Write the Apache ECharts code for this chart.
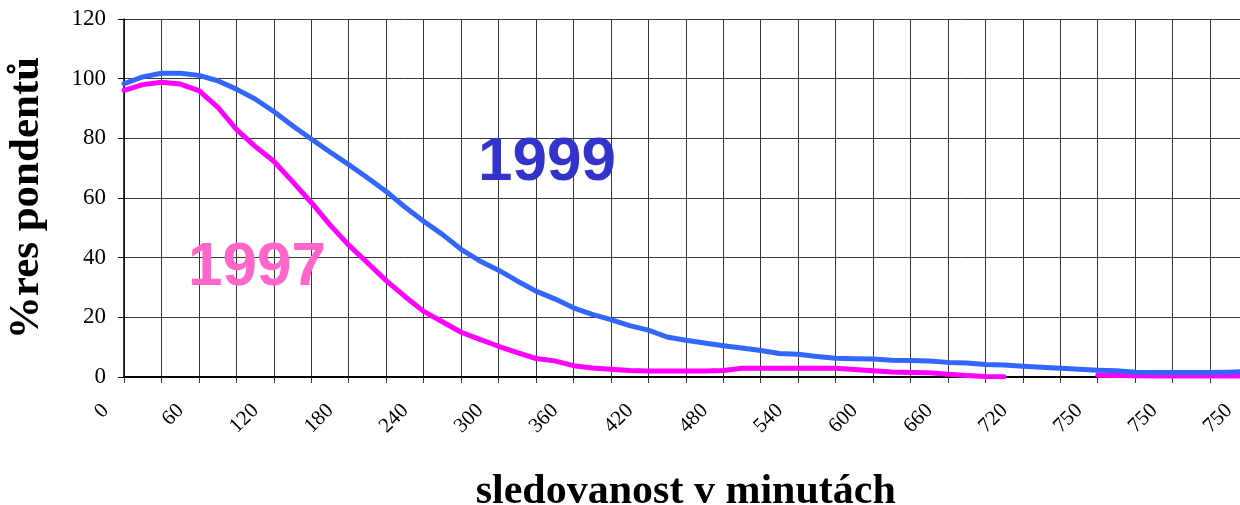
<!DOCTYPE html>
<html>
<head>
<meta charset="utf-8">
<script src="https://cdn.jsdelivr.net/npm/echarts@6/dist/echarts.min.js"></script>
<style>
    html, body {margin: 0; padding: 0; background: #fff;}
    #chart {width: 1240px; height: 505px;}
</style>
</head>
<body>
<div id="chart"></div>
<script>
// minutes along the x axis (one point every 15 min)
let minutes = [0, 15, 30, 45, 60, 75, 90, 105, 120, 135, 150, 165, 180, 195, 210, 225, 240, 255, 270, 285,
    300, 315, 330, 345, 360, 375, 390, 405, 420, 435, 450, 465, 480, 495, 510, 525, 540, 555, 570, 585,
    600, 615, 630, 645, 660, 675, 690, 705, 720, 735, 750, 765, 780, 795, 810, 825, 840, 855, 870, 885, 900];

// labels printed under every second grid line (as in the original, the last ones repeat)
let tickLabels = ['0', '60', '120', '180', '240', '300', '360', '420', '480', '540', '600', '660', '720', '750', '750', '750'];

let values1997 = [96.1, 98, 98.8, 98.2, 96, 90.5, 83, 77.3, 72.3, 65.5, 58.5, 51, 44.2, 38.3, 32.3, 27, 22, 18.5, 15, 12.6,
    10.3, 8.2, 6.2, 5.4, 3.8, 3, 2.6, 2.2, 2, 2, 2, 2, 2.2, 2.9, 2.9, 2.9, 2.9, 2.9, 2.9, 2.5,
    2.1, 1.7, 1.5, 1.4, 0.9, 0.5, 0.2, 0.1, null, null, null, null, 0.6, 0.5, 0.4, 0.3, 0.3, 0.3, 0.3, 0.3, 0.3];

let values1999 = [98.3, 100.6, 101.8, 101.8, 101.1, 99.3, 96.5, 93.2, 89, 84.2, 79.8, 75.4, 71.2, 66.8, 62.2, 57, 52.2, 47.8, 42.8, 38.9,
    35.8, 32.2, 28.8, 26.2, 23.2, 21, 19.2, 17.2, 15.7, 13.4, 12.3, 11.4, 10.5, 9.7, 8.9, 7.9, 7.6, 6.9, 6.3, 6.1,
    6, 5.6, 5.5, 5.4, 4.9, 4.7, 4.2, 4, 3.6, 3.3, 2.9, 2.6, 2.3, 2.1, 1.6, 1.5, 1.5, 1.5, 1.5, 1.6, 1.8];

let chart = echarts.init(document.getElementById('chart'), null, {renderer: 'canvas'});

let pairs = (vals) => minutes.map((m, i) => [m, vals[i]]);

let gridColor = '#383838';
let serif = 'Liberation Serif';

let option = {
    animation: false,
    grid: {
        left: 124,
        right: -7.5,
        top: 19,
        bottom: 128,
        containLabel: false,
        outerBoundsMode: 'none'
    },
    xAxis: {
        type: 'value',
        min: 0,
        max: 900,
        interval: 30,
        name: 'sledovanost v minutách',
        nameLocation: 'middle',
        nameGap: 94,
        nameTextStyle: {
            fontFamily: serif,
            fontWeight: 'bold',
            fontSize: 42,
            color: '#000'
        },
        axisLine: {
            show: true,
            lineStyle: {color: '#000', width: 2}
        },
        axisTick: {
            show: true,
            length: 6,
            lineStyle: {color: gridColor, width: 1}
        },
        splitLine: {
            show: true,
            lineStyle: {color: gridColor, width: 1}
        },
        axisLabel: {
            rotate: 45,
            margin: 12,
            padding: [0, 26, 0, 0],
            fontFamily: serif,
            fontSize: 21,
            color: '#000',
            showMinLabel: true,
            showMaxLabel: true,
            formatter: (value) => value % 60 === 0 ? tickLabels[value / 60] : ''
        }
    },
    yAxis: {
        type: 'value',
        min: 0,
        max: 120,
        interval: 20,
        name: '%res pondentů',
        nameLocation: 'middle',
        nameRotate: 90,
        nameGap: 76,
        nameTextStyle: {
            fontFamily: serif,
            fontWeight: 'bold',
            fontSize: 43,
            color: '#000'
        },
        axisLine: {
            show: true,
            lineStyle: {color: '#000', width: 1.5}
        },
        axisTick: {
            show: true,
            length: 6,
            lineStyle: {color: '#000', width: 1}
        },
        splitLine: {
            show: true,
            lineStyle: {color: gridColor, width: 1}
        },
        axisLabel: {
            margin: 18,
            fontFamily: serif,
            fontSize: 23,
            color: '#000'
        }
    },
    series: [
        {
            type: 'line',
            name: '1997',
            data: pairs(values1997),
            showSymbol: false,
            connectNulls: false,
            lineStyle: {color: '#FF00FF', width: 5, cap: 'round', join: 'round'},
            itemStyle: {color: '#FF00FF'}
        },
        {
            type: 'line',
            name: '1999',
            data: pairs(values1999),
            showSymbol: false,
            lineStyle: {color: '#3366FF', width: 5, cap: 'round', join: 'round'},
            itemStyle: {color: '#3366FF'}
        }
    ],
    graphic: [
        {
            type: 'text',
            z: 100,
            style: {
                text: '1999',
                x: 547,
                y: 163,
                align: 'center',
                verticalAlign: 'middle',
                font: 'bold 62px "Liberation Sans"',
                fill: '#3333CC'
            }
        },
        {
            type: 'text',
            z: 100,
            style: {
                text: '1997',
                x: 257,
                y: 268,
                align: 'center',
                verticalAlign: 'middle',
                font: 'bold 62px "Liberation Sans"',
                fill: '#FF66CC'
            }
        }
    ]
};

chart.setOption(option);
</script>
</body>
</html>
